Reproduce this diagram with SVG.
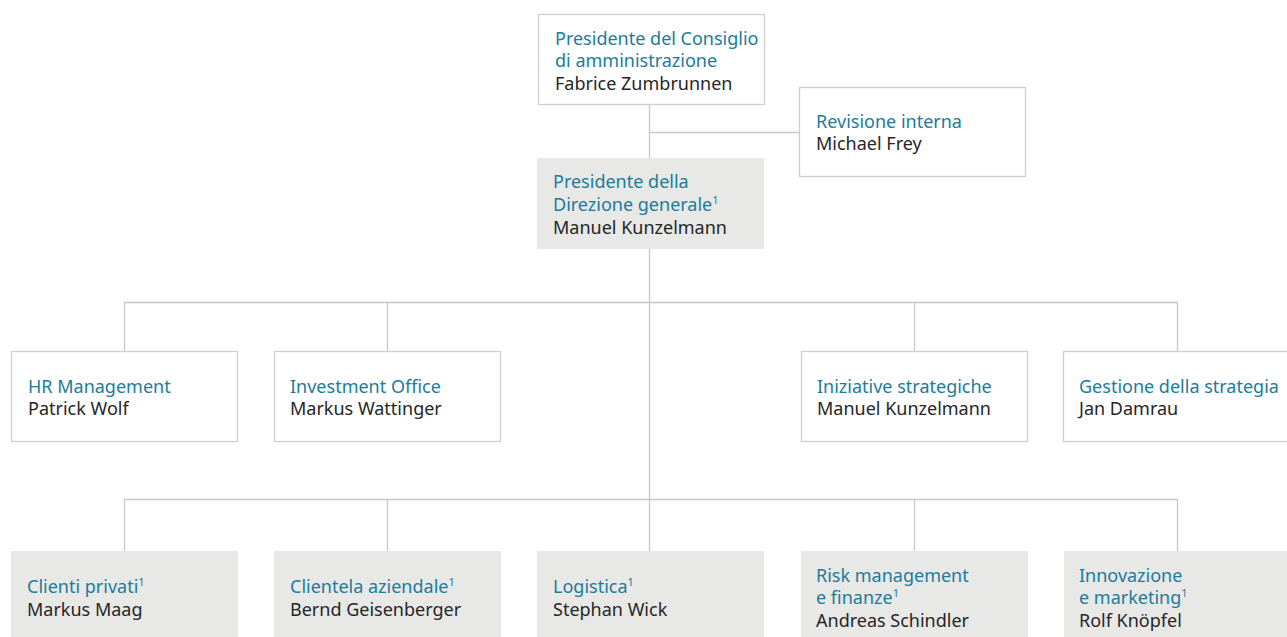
<svg xmlns="http://www.w3.org/2000/svg" width="1287" height="637" viewBox="0 0 1287 637">
<style>
.bw{fill:#fff;stroke:#cfcfcf;stroke-width:1.3}
.bg{fill:#e8e8e6;stroke:none}
.ln{fill:none;stroke:#c8c8c8;stroke-width:1.3}
text{font-family:"Noto Sans","Open Sans",sans-serif;font-size:18px}
.t{fill:#1b7c9b}
.n{fill:#262626}
.s{font-size:11px}
</style>
<rect width="1287" height="637" fill="#fff"/>
<g id="connectors">
<path class="ln" d="M649.5 105V158M649.5 132.5H799M649.5 249V499"/>
<path class="ln" d="M124.5 352V302.5H1177.5V352M387.5 302.5V352M914.5 302.5V352"/>
<path class="ln" d="M124.5 551V499.5H1177.5V551M387.5 499.5V551M649.5 499.5V551M914.5 499.5V551"/>
</g>
<g id="n-cda"><rect class="bw" x="538.5" y="14.5" width="226" height="90"/>
<text x="555" y="45" class="t">Presidente del Consiglio</text><text x="555" y="67" class="t">di amministrazione</text><text x="555" y="90" class="n">Fabrice Zumbrunnen</text></g>
<g id="n-rev"><rect class="bw" x="799.5" y="87.5" width="226" height="89"/>
<text x="816" y="128" class="t">Revisione interna</text><text x="816" y="150" class="n">Michael Frey</text></g>
<g id="n-ceo"><rect class="bg" x="537" y="158" width="227" height="91"/>
<text x="553" y="188" class="t">Presidente della</text><text x="553" y="211" class="t">Direzione generale<tspan class="s" dy="-7">1</tspan></text><text x="553" y="234" class="n">Manuel Kunzelmann</text></g>
<g id="n-hr"><rect class="bw" x="11.5" y="351.5" width="226" height="90"/>
<text x="28" y="393" class="t">HR Management</text><text x="28" y="415" class="n">Patrick Wolf</text></g>
<g id="n-io"><rect class="bw" x="274.5" y="351.5" width="226" height="90"/>
<text x="290" y="393" class="t">Investment Office</text><text x="290" y="415" class="n">Markus Wattinger</text></g>
<g id="n-is"><rect class="bw" x="801.5" y="351.5" width="226" height="90"/>
<text x="817" y="393" class="t">Iniziative strategiche</text><text x="817" y="415" class="n">Manuel Kunzelmann</text></g>
<g id="n-gs"><rect class="bw" x="1063.5" y="351.5" width="230" height="90"/>
<text x="1079" y="393" class="t">Gestione della strategia</text><text x="1079" y="415" class="n">Jan Damrau</text></g>
<g id="n-cp"><rect class="bg" x="11" y="551" width="227" height="90"/>
<text x="27" y="593" class="t">Clienti privati<tspan class="s" dy="-7">1</tspan></text><text x="27" y="616" class="n">Markus Maag</text></g>
<g id="n-ca"><rect class="bg" x="274" y="551" width="227" height="90"/>
<text x="290" y="593" class="t">Clientela aziendale<tspan class="s" dy="-7">1</tspan></text><text x="290" y="616" class="n">Bernd Geisenberger</text></g>
<g id="n-lo"><rect class="bg" x="537" y="551" width="227" height="90"/>
<text x="553" y="593" class="t">Logistica<tspan class="s" dy="-7">1</tspan></text><text x="553" y="616" class="n">Stephan Wick</text></g>
<g id="n-rm"><rect class="bg" x="801" y="551" width="227" height="90"/>
<text x="816" y="582" class="t">Risk management</text><text x="816" y="604" class="t">e finanze<tspan class="s" dy="-7">1</tspan></text><text x="816" y="627" class="n">Andreas Schindler</text></g>
<g id="n-im"><rect class="bg" x="1064" y="551" width="230" height="90"/>
<text x="1079" y="582" class="t">Innovazione</text><text x="1079" y="604" class="t">e marketing<tspan class="s" dy="-7">1</tspan></text><text x="1079" y="627" class="n">Rolf Knöpfel</text></g>
</svg>
